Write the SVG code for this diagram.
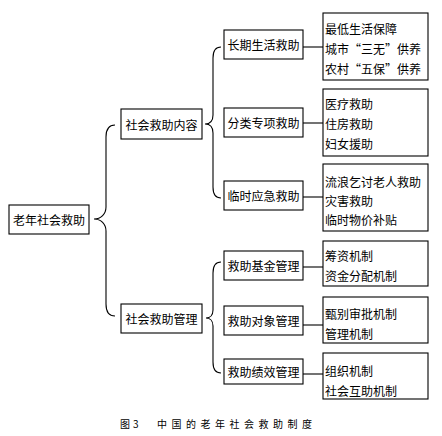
<svg xmlns="http://www.w3.org/2000/svg" width="442" height="436" viewBox="0 0 442 436">
<style>
.box{fill:#fff;stroke:#000;stroke-width:1.1}
.t{font-family:"Noto Sans CJK SC","Liberation Serif",sans-serif;font-size:12px;fill:#000}
.c{text-anchor:middle;dominant-baseline:central}
.l{dominant-baseline:central}
.conn path,.conn line{fill:none;stroke:#000;stroke-width:1.1}
.cap{font-family:"Noto Sans CJK SC","Liberation Sans",sans-serif;font-size:10px;fill:#000;letter-spacing:4.5px}
</style>
<rect width="442" height="436" fill="#fff"/>
<g class="conn" id="connectors">
<path d="M115,125 C109,125 106,129 106,137 L106,207 C106,214 101,219 94,219 C101,219 106,224 106,231 L106,304 C106,312 109,316 115,316"/>
<path d="M221,47 C215,47 213,51 213,58 L213,115 C213,121 210,124 205,124 C210,124 213,127 213,133 L213,187 C213,194 215,198 221,198"/>
<path d="M221,262 C215,262 213,266 213,273 L213,310 C213,315 210,318 206,318 C210,318 213,321 213,326 L213,362 C213,369 215,373 221,373"/>
<line x1="303" y1="47" x2="323" y2="47"/>
<line x1="303" y1="123" x2="323" y2="123"/>
<line x1="303" y1="197" x2="323" y2="197"/>
<line x1="303" y1="267" x2="323" y2="267"/>
<line x1="303" y1="325" x2="323" y2="325"/>
<line x1="303" y1="374" x2="323" y2="374"/>
</g>
<g id="root"><rect class="box" x="9" y="205" width="80" height="29"/><text class="t c" x="49" y="219.5">老年社会救助</text></g>
<g id="content"><rect class="box" x="121" y="109" width="81" height="30"/><text class="t c" x="161.5" y="124">社会救助内容</text></g>
<g id="manage"><rect class="box" x="121" y="304" width="81" height="29"/><text class="t c" x="161.5" y="318.5">社会救助管理</text></g>
<g id="n_long"><rect class="box" x="224" y="30" width="79" height="29"/><text class="t c" x="263.5" y="44.5">长期生活救助</text></g>
<g id="n_class"><rect class="box" x="224" y="108" width="79" height="29"/><text class="t c" x="263.5" y="122.5">分类专项救助</text></g>
<g id="n_temp"><rect class="box" x="224" y="181" width="79" height="29"/><text class="t c" x="263.5" y="195.5">临时应急救助</text></g>
<g id="n_fund"><rect class="box" x="224" y="251" width="79" height="29"/><text class="t c" x="263.5" y="265.5">救助基金管理</text></g>
<g id="n_obj"><rect class="box" x="224" y="306" width="79" height="29"/><text class="t c" x="263.5" y="320.5">救助对象管理</text></g>
<g id="n_perf"><rect class="box" x="224" y="359" width="79" height="25"/><text class="t c" x="263.5" y="371.5">救助绩效管理</text></g>
<g id="d_long"><rect class="box" x="323" y="13" width="105" height="67"/>
<text class="t l" x="325" y="28">最低生活保障</text><text class="t l" x="325" y="48">城市“三无”供养</text><text class="t l" x="325" y="68">农村“五保”供养</text></g>
<g id="d_class"><rect class="box" x="323" y="89" width="105" height="67"/>
<text class="t l" x="325" y="103">医疗救助</text><text class="t l" x="325" y="123">住房救助</text><text class="t l" x="325" y="143">妇女援助</text></g>
<g id="d_temp"><rect class="box" x="323" y="164" width="105" height="67"/>
<text class="t l" x="325" y="181">流浪乞讨老人救助</text><text class="t l" x="325" y="200">灾害救助</text><text class="t l" x="325" y="219">临时物价补贴</text></g>
<g id="d_fund"><rect class="box" x="323" y="241" width="105" height="45"/>
<text class="t l" x="325" y="255">筹资机制</text><text class="t l" x="325" y="275">资金分配机制</text></g>
<g id="d_obj"><rect class="box" x="323" y="297" width="105" height="46"/>
<text class="t l" x="325" y="313">甄别审批机制</text><text class="t l" x="325" y="333">管理机制</text></g>
<g id="d_perf"><rect class="box" x="323" y="353" width="105" height="46"/>
<text class="t l" x="325" y="370">组织机制</text><text class="t l" x="325" y="390">社会互助机制</text></g>
<text class="cap" x="120" y="428" style="letter-spacing:0">图</text>
<text class="cap" x="133" y="428" style="letter-spacing:0">3</text>
<text class="cap" x="157" y="428">中国的老年社会救助制度</text>
</svg>
